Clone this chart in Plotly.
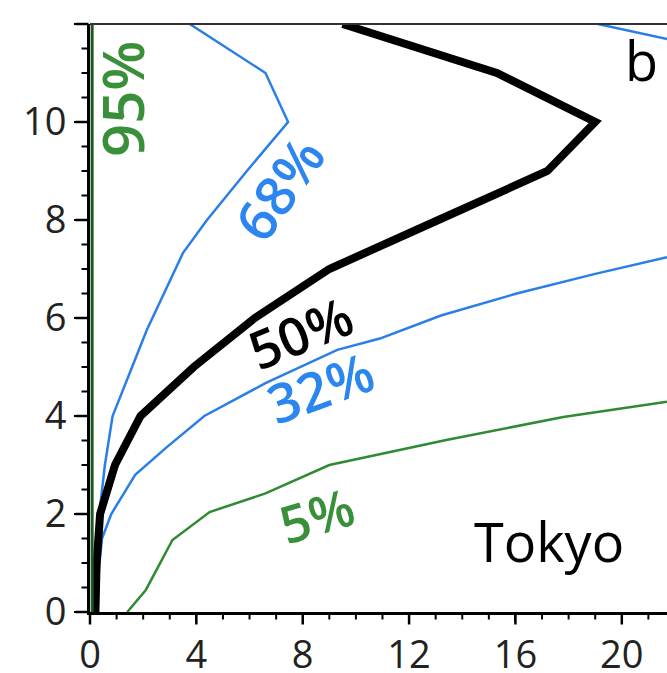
import plotly.graph_objects as go

# Percentile curves (x = value, y = level)
p95_x = [0.08, 0.08]
p95_y = [0, 12]

p68_x = [0.2, 0.26, 0.35, 0.56, 0.85, 1.58, 2.14, 3.5, 4.4, 5.9, 7.45, 6.6, 3.75]
p68_y = [0, 1, 2, 3, 4, 5, 5.76, 7.33, 8, 9, 10, 11, 12]

p50_x = [0.2, 0.25, 0.38, 0.94, 1.9, 3.9, 6.2, 9.0, 13.1, 17.2, 19.0, 15.3, 9.5]
p50_y = [0, 1, 2, 3, 4, 5, 6, 7, 8, 9, 10, 11, 12]

p32_x = [0.3, 0.32, 0.45, 0.8, 1.7, 2.9, 4.3, 6.6, 9.3, 10.9, 13.2, 16.05, 19.0, 21.7, 28, 36, 19.1]
p32_y = [0, 0.8, 1.5, 2.0, 2.8, 3.37, 4.0, 4.67, 5.35, 5.58, 6.05, 6.5, 6.9, 7.24, 8.3, 10.0, 12]

p5_x = [1.4, 2.1, 3.1, 4.5, 6.6, 9.0, 13.4, 17.8, 21.7]
p5_y = [0, 0.45, 1.47, 2.04, 2.42, 3.0, 3.51, 3.98, 4.29]

x_major = [0, 4, 8, 12, 16, 20]
x_minor = [1, 2, 3, 5, 6, 7, 9, 10, 11, 13, 14, 15, 17, 18, 19, 21]
y_major = [0, 2, 4, 6, 8, 10, 12]
y_minor = [0.5, 1, 1.5, 2.5, 3, 3.5, 4.5, 5, 5.5, 6.5, 7, 7.5, 8.5, 9, 9.5, 10.5, 11, 11.5]
X_RANGE = [0, 21.7]
Y_RANGE = [0, 12]

BLUE = "#2a7fe6"
GREEN = "#2f8a33"
DKGREEN = "#1d5a1d"
FONT = "Open Sans"

W, H = 667, 673
ML, MR, MT, MB = 90, 0, 24, 61
PW, PH = W - ML - MR, H - MT - MB

fig = go.Figure()
fig.add_trace(go.Scatter(x=p5_x, y=p5_y, mode="lines", line=dict(color=GREEN, width=2.5)))
fig.add_trace(go.Scatter(x=p32_x, y=p32_y, mode="lines", line=dict(color=BLUE, width=2.5)))
fig.add_trace(go.Scatter(x=p68_x, y=p68_y, mode="lines", line=dict(color=BLUE, width=2.5)))
fig.add_trace(go.Scatter(x=p50_x, y=p50_y, mode="lines", line=dict(color="black", width=8)))
fig.add_trace(go.Scatter(x=p95_x, y=p95_y, mode="lines", line=dict(color=DKGREEN, width=3)))

fig.add_shape(type="line", xref="paper", yref="paper", x0=0, x1=1, y0=1, y1=1,
              line=dict(color="#333333", width=2))


def xfrac(v):
    return (v - X_RANGE[0]) / (X_RANGE[1] - X_RANGE[0])


def yfrac(v):
    return (v - Y_RANGE[0]) / (Y_RANGE[1] - Y_RANGE[0])


# outward tick marks (axis decoration), placed via the axis range mapping
for vals, ln, wd in [(x_major, 11, 2.5), (x_minor, 6, 2)]:
    for t in vals:
        fig.add_shape(type="line", xref="paper", yref="paper", x0=xfrac(t), x1=xfrac(t),
                      y0=-1.5 / PH, y1=-(1.5 + ln) / PH,
                      line=dict(color="black", width=wd), layer="above")
for vals, ln, wd in [(y_major, 13, 2.5), (y_minor, 7, 2)]:
    for t in vals:
        fig.add_shape(type="line", xref="paper", yref="paper", y0=yfrac(t), y1=yfrac(t),
                      x0=-1.5 / PW, x1=-(1.5 + ln) / PW,
                      line=dict(color="black", width=wd), layer="above")

labels = [
    ("95%", 122, 99, -90, "#3a8f3a", 58),
    ("68%", 278, 188, -55, "#2b86f0", 55),
    ("50%", 300, 332, -22, "black", 53),
    ("32%", 320, 387, -20, "#2b86f0", 54),
    ("5%", 316, 514, -17, "#3a8f3a", 52),
    ("Tokyo", 549, 541, 0, "black", 54),
    ("b", 641, 60, 0, "black", 54),
]
for txt, px, py, ang, col, sz in labels:
    fig.add_annotation(x=(px - ML) / PW, y=(H - MB - py) / PH, xref="paper", yref="paper",
                       text=txt, showarrow=False, textangle=ang,
                       font=dict(family=FONT, size=sz, color=col, weight=600 if "%" in txt else 400),
                       xanchor="center", yanchor="middle")

fig.update_layout(
    template="none",
    width=W, height=H,
    margin=dict(l=ML, r=MR, t=MT, b=MB, autoexpand=False),
    plot_bgcolor="white", paper_bgcolor="white",
    showlegend=False,
    font=dict(family=FONT, size=38, color="#222222"),
)
fig.update_xaxes(range=X_RANGE, tickmode="array", tickvals=x_major, automargin=False,
                 showgrid=False, zeroline=False, showline=True, linecolor="black", linewidth=3,
                 ticks="outside", ticklen=7, tickwidth=2, tickcolor="black",
                 tickfont=dict(size=38))
fig.update_yaxes(range=Y_RANGE, tickmode="array", tickvals=y_major, automargin=False,
                 showgrid=False, zeroline=False, showline=True, linecolor="black", linewidth=3,
                 ticks="outside", ticklen=13, tickwidth=2, tickcolor="black",
                 tickfont=dict(size=38))

fig.write_html("out.html")
